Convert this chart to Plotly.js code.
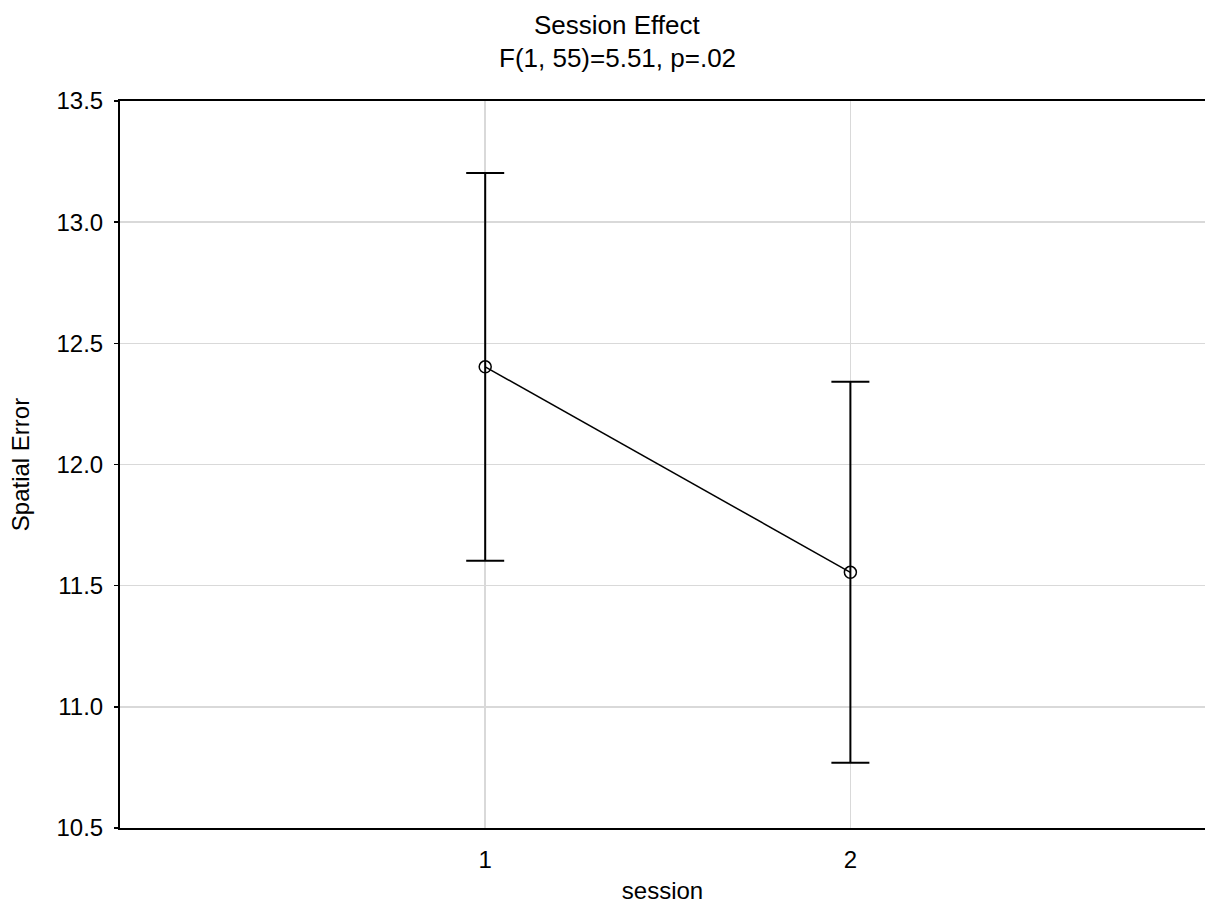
<!DOCTYPE html>
<html>
<head>
<meta charset="utf-8">
<script src="https://cdn.plot.ly/plotly-3.0.1.min.js"></script>
<style>html,body{margin:0;padding:0;overflow:hidden;background:#fff;}</style>
</head>
<body>
<div id="chart" style="width:1205px;height:911px;"></div>
<script>
const sessions = [1, 2];
const sessionLabels = ['1', '2'];
const spatialError = [12.403, 11.555];
const ciHalfWidth = [0.80, 0.786];
const yTicks = [10.5, 11.0, 11.5, 12.0, 12.5, 13.0, 13.5];
const titleLines = ['Session Effect', 'F(1, 55)=5.51, p=.02'];

const font = {family: '"Liberation Sans", Arial, Helvetica, sans-serif', color: '#000'};
const f = (s) => Object.assign({size: s}, font);

const trace = {
  x: sessions,
  y: spatialError,
  type: 'scatter',
  mode: 'lines+markers',
  line: {color: '#000', width: 1.5},
  marker: {symbol: 'circle-open', size: 12, color: '#000', line: {width: 1.5, color: '#000'}},
  error_y: {type: 'data', array: ciHalfWidth, visible: true, color: '#000', thickness: 2, width: 19},
  hoverinfo: 'skip'
};

const titleX = (617 - 120) / 1085;

const layout = {
  width: 1205,
  height: 911,
  margin: {l: 120, r: 0, t: 101, b: 83},
  paper_bgcolor: '#fff',
  plot_bgcolor: '#fff',
  showlegend: false,
  font: f(24),
  annotations: [
    {text: titleLines[0], xref: 'paper', yref: 'paper', x: titleX, y: (828 - 25) / 727,
     xanchor: 'center', yanchor: 'middle', showarrow: false, font: f(26)},
    {text: titleLines[1], xref: 'paper', yref: 'paper', x: titleX, y: (828 - 58) / 727,
     xanchor: 'center', yanchor: 'middle', showarrow: false, font: f(26)}
  ],
  xaxis: {
    range: [0, 2.971],
    tickvals: sessions,
    ticktext: sessionLabels,
    showgrid: true, gridcolor: '#d9d9d9', gridwidth: 1.5,
    zeroline: false,
    showline: true, linecolor: '#000', linewidth: 2, mirror: true,
    ticks: '',
    ticklabelstandoff: 9,
    tickfont: f(24),
    title: {text: 'session', font: f(24), standoff: 10}
  },
  yaxis: {
    range: [10.5, 13.5],
    tickvals: yTicks,
    tickformat: '.1f',
    showgrid: true, gridcolor: '#d9d9d9', gridwidth: 1.5,
    zeroline: false,
    showline: true, linecolor: '#000', linewidth: 2,
    ticks: 'outside', ticklen: 4, tickwidth: 1.5, tickcolor: '#000',
    ticklabelstandoff: 6,
    tickfont: f(24),
    title: {text: 'Spatial Error', font: f(24), standoff: 20}
  }
};

Plotly.newPlot('chart', [trace], layout, {displayModeBar: false, staticPlot: true});
</script>
</body>
</html>
